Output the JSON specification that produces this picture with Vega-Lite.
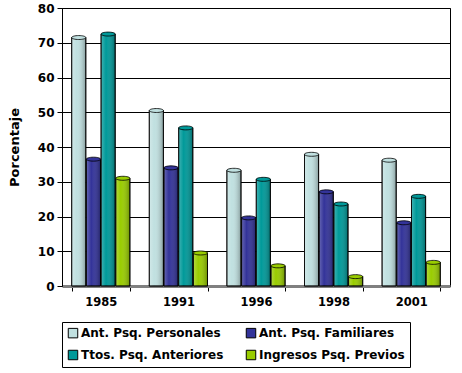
{
  "$schema": "https://vega.github.io/schema/vega-lite/v6.json",
  "width": 388,
  "height": 278,
  "autosize": {"type": "none"},
  "padding": {"left": 62, "top": 8, "right": 12, "bottom": 87},
  "background": "white",
  "config": {
    "view": {"stroke": "black", "strokeWidth": 1},
    "font": "DejaVu Sans"
  },
  "data": {
    "values": [
      {"year": "1985", "serie": "Ant. Psq. Personales", "valor": 71.5},
      {"year": "1985", "serie": "Ant. Psq. Familiares", "valor": 36.5},
      {"year": "1985", "serie": "Ttos. Psq. Anteriores", "valor": 72.5},
      {"year": "1985", "serie": "Ingresos Psq. Previos", "valor": 31},
      {"year": "1991", "serie": "Ant. Psq. Personales", "valor": 50.5},
      {"year": "1991", "serie": "Ant. Psq. Familiares", "valor": 34},
      {"year": "1991", "serie": "Ttos. Psq. Anteriores", "valor": 45.5},
      {"year": "1991", "serie": "Ingresos Psq. Previos", "valor": 9.5},
      {"year": "1996", "serie": "Ant. Psq. Personales", "valor": 33.3},
      {"year": "1996", "serie": "Ant. Psq. Familiares", "valor": 19.6},
      {"year": "1996", "serie": "Ttos. Psq. Anteriores", "valor": 30.7},
      {"year": "1996", "serie": "Ingresos Psq. Previos", "valor": 5.8},
      {"year": "1998", "serie": "Ant. Psq. Personales", "valor": 37.9},
      {"year": "1998", "serie": "Ant. Psq. Familiares", "valor": 27.1},
      {"year": "1998", "serie": "Ttos. Psq. Anteriores", "valor": 23.6},
      {"year": "1998", "serie": "Ingresos Psq. Previos", "valor": 2.7},
      {"year": "2001", "serie": "Ant. Psq. Personales", "valor": 36.2},
      {"year": "2001", "serie": "Ant. Psq. Familiares", "valor": 18.2},
      {"year": "2001", "serie": "Ttos. Psq. Anteriores", "valor": 25.8},
      {"year": "2001", "serie": "Ingresos Psq. Previos", "valor": 6.8}
    ]
  },
  "encoding": {
    "x": {
      "field": "year", "type": "nominal",
      "scale": {"paddingInner": 0.25, "paddingOuter": 0.125},
      "axis": {
        "title": null, "labelAngle": 0, "labelFont": "DejaVu Sans", "labelFontSize": 11.5,
        "labelFontWeight": "bold", "labelColor": "black", "labelPadding": 5,
        "domainColor": "#808080", "domainWidth": 3, "tickColor": "black", "tickBand": "extent", "tickSize": 5
      }
    },
    "xOffset": {
      "field": "serie", "type": "nominal",
      "sort": ["Ant. Psq. Personales", "Ant. Psq. Familiares", "Ttos. Psq. Anteriores", "Ingresos Psq. Previos"],
      "scale": {"paddingInner": 0.04}
    },
    "y": {
      "field": "valor", "type": "quantitative",
      "scale": {"domain": [0, 80], "nice": false},
      "axis": {
        "title": "Porcentaje", "titleFont": "DejaVu Sans", "titleFontSize": 13, "titleFontWeight": "bold",
        "titleColor": "black", "titlePadding": 16,
        "values": [0, 10, 20, 30, 40, 50, 60, 70, 80],
        "labelFont": "DejaVu Sans", "labelFontSize": 12, "labelFontWeight": "bold", "labelColor": "black",
        "gridColor": "black", "gridOpacity": 1, "gridWidth": 1, "grid": true,
        "domainColor": "black", "tickColor": "black", "tickSize": 5, "labelPadding": 3
      }
    }
  },
  "layer": [
    {
      "mark": {"type": "bar", "stroke": "black", "strokeWidth": 0.8},
      "encoding": {
        "color": {
          "field": "serie", "type": "nominal",
          "sort": ["Ant. Psq. Personales", "Ant. Psq. Familiares", "Ttos. Psq. Anteriores", "Ingresos Psq. Previos"],
          "scale": {"range": ["#C0E0E0", "#333399", "#009999", "#99CC00"]},
          "legend": {
            "title": null, "orient": "none", "legendX": 0, "legendY": 314,
            "columns": 2, "direction": "horizontal",
            "symbolType": "square", "symbolSize": 90, "symbolStrokeColor": "black", "symbolStrokeWidth": 1,
            "symbolOpacity": 1,
            "labelFont": "DejaVu Sans", "labelFontSize": 12, "labelFontWeight": "bold", "labelColor": "black",
            "labelOffset": 2, "columnPadding": 20, "rowPadding": 8,
            "strokeColor": "black", "padding": 5, "labelLimit": 220
          }
        }
      }
    },
    {
      "mark": {
        "type": "bar",
        "fill": {
          "x1": 0, "y1": 0, "x2": 1, "y2": 0, "gradient": "linear",
          "stops": [
            {"offset": 0, "color": "rgba(255,255,255,0.25)"},
            {"offset": 0.35, "color": "rgba(255,255,255,0)"},
            {"offset": 1, "color": "rgba(0,0,0,0.3)"}
          ]
        },
        "stroke": "black", "strokeWidth": 0.8
      },
      "encoding": {}
    },
    {
      "mark": {
        "type": "point", "filled": true, "opacity": 1,
        "shape": "M -1 0 A 1 0.28 0 1 0 1 0 A 1 0.28 0 1 0 -1 0 Z",
        "size": 200, "stroke": "black", "strokeWidth": 0.8
      },
      "encoding": {
        "color": {
          "field": "serie", "type": "nominal",
          "sort": ["Ant. Psq. Personales", "Ant. Psq. Familiares", "Ttos. Psq. Anteriores", "Ingresos Psq. Previos"],
          "legend": null
        }
      }
    }
  ]
}
